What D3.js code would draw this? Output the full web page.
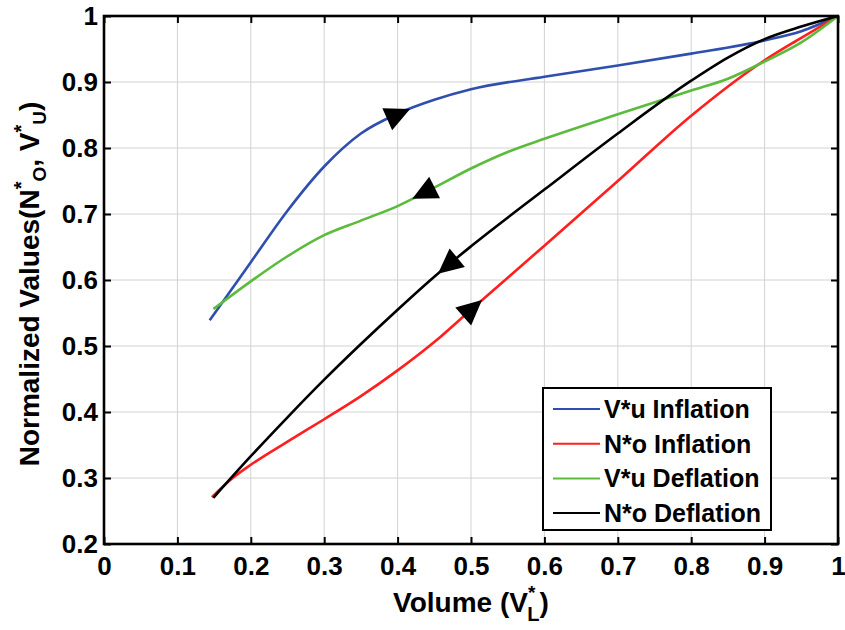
<!DOCTYPE html>
<html lang="en">
<head>
  <meta charset="UTF-8">
  <title>Normalized Values vs Volume</title>
  <script src="https://cdn.jsdelivr.net/npm/d3@7"></script>
  <style>
    body { margin: 0; background: #fff; }
    text { font-family: 'Liberation Sans', Arial, sans-serif; font-weight: bold; fill: #000; }
    .grid line { stroke: #d2d2d2; stroke-width: 1px; }
    .axis path { display: none; }
    .axis line { stroke: #000; stroke-width: 2px; }
  </style>
</head>
<body>
  <div id="chart"></div>
  <script>
    // Values
    let volBlue = [0.144, 0.172, 0.2, 0.25, 0.3, 0.35, 0.4, 0.45, 0.5, 0.6, 0.7, 0.8, 0.9, 0.95, 1];
    let vuInflation = [0.539, 0.583, 0.627, 0.705, 0.772, 0.822, 0.852, 0.873, 0.889, 0.908, 0.925, 0.943, 0.963, 0.977, 1];

    let volRed = [0.147, 0.172, 0.2, 0.25, 0.3, 0.35, 0.4, 0.45, 0.5, 0.6, 0.7, 0.8, 0.9, 0.95, 1];
    let noInflation = [0.271, 0.297, 0.320, 0.355, 0.389, 0.424, 0.463, 0.506, 0.555, 0.652, 0.750, 0.849, 0.933, 0.967, 1];

    let volGreen = [0.149, 0.2, 0.25, 0.3, 0.35, 0.4, 0.45, 0.5, 0.55, 0.6, 0.7, 0.8, 0.85, 0.9, 0.95, 1];
    let vuDeflation = [0.556, 0.598, 0.636, 0.668, 0.690, 0.712, 0.740, 0.769, 0.794, 0.814, 0.851, 0.887, 0.905, 0.931, 0.960, 1];

    let volBlack = [0.149, 0.2, 0.25, 0.3, 0.35, 0.4, 0.45, 0.5, 0.6, 0.7, 0.8, 0.85, 0.9, 0.95, 1];
    let noDeflation = [0.270, 0.333, 0.392, 0.449, 0.503, 0.555, 0.605, 0.651, 0.737, 0.822, 0.902, 0.937, 0.965, 0.984, 1];

    let seriesNames = ['V*u Inflation', 'N*o Inflation', 'V*u Deflation', 'N*o Deflation'];
    let seriesColors = ['#2f4fae', '#ff1f1f', '#5cbb3c', '#000000'];
    // where the direction arrows sit (x of the tip) and which way they point
    let arrowTips = [0.417, 0.515, 0.42, 0.455];
    let arrowDirs = [1, 1, -1, -1];

    let xTicks = [0, 0.1, 0.2, 0.3, 0.4, 0.5, 0.6, 0.7, 0.8, 0.9, 1];
    let yTicks = [0.2, 0.3, 0.4, 0.5, 0.6, 0.7, 0.8, 0.9, 1];

    let series = [
      { name: seriesNames[0], x: volBlue, y: vuInflation },
      { name: seriesNames[1], x: volRed, y: noInflation },
      { name: seriesNames[2], x: volGreen, y: vuDeflation },
      { name: seriesNames[3], x: volBlack, y: noDeflation }
    ];
    series.forEach((s, i) => {
      s.color = seriesColors[i];
      s.points = s.x.map((v, j) => [v, s.y[j]]);
    });

    let margin = { top: 16, right: 7, bottom: 86, left: 104 };
    let W = 845, H = 630;
    let width = W - margin.left - margin.right;
    let height = H - margin.top - margin.bottom;

    let svg = d3.select('#chart').append('svg')
      .attr('width', W)
      .attr('height', H);
    let g = svg.append('g')
      .attr('transform', `translate(${margin.left}, ${margin.top})`);

    let xScale = d3.scaleLinear().domain([0, 1]).range([0, width]);
    let yScale = d3.scaleLinear().domain([0.2, 1]).range([height, 0]);

    // grid
    let grid = g.append('g').attr('class', 'grid');
    grid.selectAll('.gx').data(xTicks).enter().append('line')
      .attr('x1', d => xScale(d)).attr('x2', d => xScale(d))
      .attr('y1', 0).attr('y2', height);
    grid.selectAll('.gy').data(yTicks).enter().append('line')
      .attr('y1', d => yScale(d)).attr('y2', d => yScale(d))
      .attr('x1', 0).attr('x2', width);

    // axes, ticks pointing inward on all four sides
    let fmt = d3.format('~g');
    g.append('g').attr('class', 'x axis')
      .attr('transform', `translate(0, ${height})`)
      .call(d3.axisBottom(xScale).tickValues(xTicks).tickSize(-7).tickPadding(13).tickFormat(fmt));
    g.append('g').attr('class', 'y axis')
      .call(d3.axisLeft(yScale).tickValues(yTicks).tickSize(-7).tickPadding(6).tickFormat(fmt));
    g.append('g').attr('class', 'axis')
      .call(d3.axisTop(xScale).tickValues(xTicks).tickSize(-7).tickFormat(''));
    g.append('g').attr('class', 'axis')
      .attr('transform', `translate(${width}, 0)`)
      .call(d3.axisRight(yScale).tickValues(yTicks).tickSize(-7).tickFormat(''));
    g.selectAll('.axis text').style('font-size', '26px');

    // curves
    let line = d3.line()
      .x(d => xScale(d[0]))
      .y(d => yScale(d[1]))
      .curve(d3.curveMonotoneX);

    g.selectAll('.curve')
      .data(series).enter()
      .append('path')
      .attr('class', 'curve')
      .attr('d', d => line(d.points))
      .attr('fill', 'none')
      .attr('stroke', d => d.color)
      .attr('stroke-width', 2.6);

    // direction arrows
    function valueAt(s, v) {
      let i = d3.bisectLeft(s.x, v);
      i = Math.max(1, Math.min(s.x.length - 1, i));
      let t = (v - s.x[i - 1]) / (s.x[i] - s.x[i - 1]);
      return s.y[i - 1] + t * (s.y[i] - s.y[i - 1]);
    }
    let arrowLen = 25, arrowWid = 24;
    g.selectAll('.arrow')
      .data(series).enter()
      .append('path')
      .attr('class', 'arrow')
      .attr('fill', '#000')
      .attr('d', (s, i) => {
        let v = arrowTips[i], back = v - 0.03 * arrowDirs[i];
        let tx = xScale(v), ty = yScale(valueAt(s, v));
        let bx = xScale(back), by = yScale(valueAt(s, back));
        let dx = tx - bx, dy = ty - by, len = Math.hypot(dx, dy);
        let ux = dx / len, uy = dy / len;
        let cx = tx - ux * arrowLen, cy = ty - uy * arrowLen;
        let nx = -uy * arrowWid / 2, ny = ux * arrowWid / 2;
        return `M${tx},${ty}L${cx + nx},${cy + ny}L${cx - nx},${cy - ny}Z`;
      });

    // frame
    g.append('rect')
      .attr('width', width).attr('height', height)
      .attr('fill', 'none').attr('stroke', '#000').attr('stroke-width', 2.6);

    // axis titles
    let xTitle = svg.append('text')
      .attr('x', margin.left + width / 2)
      .attr('y', 612)
      .attr('text-anchor', 'middle')
      .style('font-size', '28px');
    xTitle.append('tspan').text('Volume (V');
    xTitle.append('tspan').text('*').style('font-size', '19px').attr('dy', -13);
    xTitle.append('tspan').text('L').style('font-size', '20px').attr('dx', -8).attr('dy', 22);
    xTitle.append('tspan').text(')').attr('dy', -9);

    let yTitle = svg.append('text')
      .attr('transform', `translate(39, ${margin.top + height / 2 + 4}) rotate(-90)`)
      .attr('text-anchor', 'middle')
      .style('font-size', '28px');
    yTitle.append('tspan').text('Normalized Values(N');
    yTitle.append('tspan').text('*').style('font-size', '20px').attr('dy', -11);
    yTitle.append('tspan').text('O').style('font-size', '19px').attr('dy', 18);
    yTitle.append('tspan').text(', V').attr('dy', -7);
    yTitle.append('tspan').text('*').style('font-size', '20px').attr('dy', -11);
    yTitle.append('tspan').text('U').style('font-size', '19px').attr('dy', 18);
    yTitle.append('tspan').text(')').attr('dy', -7);

    // legend
    let legend = svg.append('g').attr('transform', 'translate(543, 388)');
    legend.append('rect')
      .attr('width', 228).attr('height', 142)
      .attr('fill', '#fff').attr('stroke', '#000').attr('stroke-width', 2);
    let rows = legend.selectAll('.legend')
      .data(series).enter()
      .append('g')
      .attr('class', 'legend')
      .attr('transform', (d, i) => `translate(0, ${21 + i * 34.7})`);
    rows.append('line')
      .attr('x1', 10).attr('x2', 57)
      .attr('stroke', d => d.color).attr('stroke-width', 2);
    rows.append('text')
      .attr('x', 61).attr('y', 9)
      .style('font-size', '25px')
      .text(d => d.name);
  </script>
</body>
</html>
